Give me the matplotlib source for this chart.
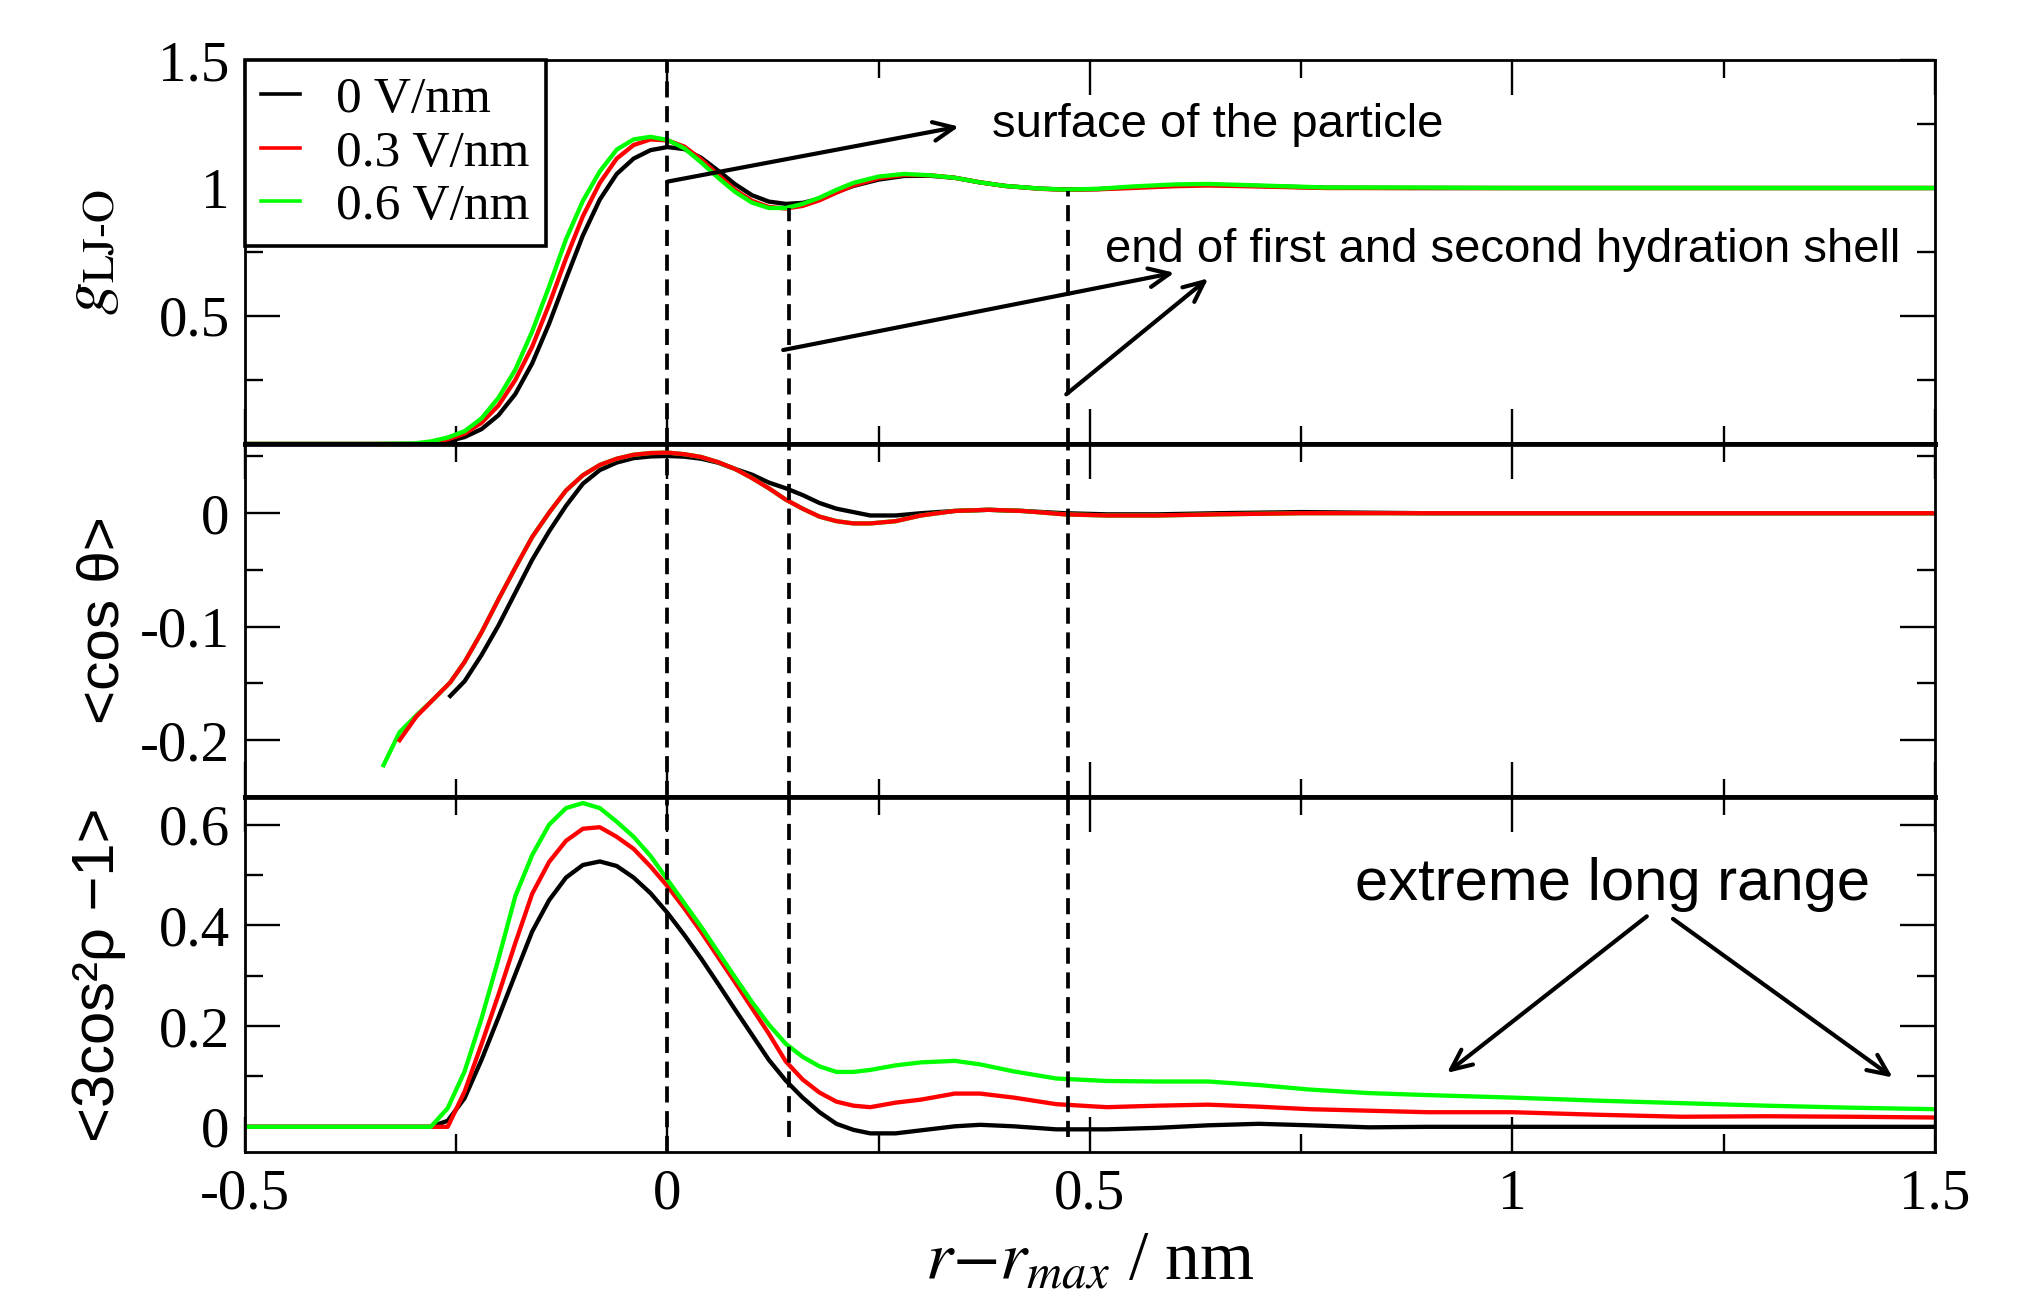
import matplotlib
matplotlib.use('Agg')
import matplotlib.pyplot as plt
import numpy as np

plt.rcParams['mathtext.fontset'] = 'stix'
plt.rcParams['axes.unicode_minus'] = False

SERIF = 'Liberation Serif'
SANS = 'Liberation Sans'

labels = ['0 V/nm', '0.3 V/nm', '0.6 V/nm']
colors = ['#000000', '#ff0000', '#00ff00']

# g_LJ-O (top panel)
x_g = [-0.50, -0.35, -0.30, -0.28, -0.26, -0.24, -0.22, -0.20, -0.18, -0.16,
       -0.14, -0.12, -0.10, -0.08, -0.06, -0.04, -0.02, 0.00, 0.02, 0.04,
       0.06, 0.08, 0.10, 0.12, 0.14, 0.16, 0.18, 0.20, 0.22, 0.25,
       0.28, 0.31, 0.34, 0.37, 0.40, 0.44, 0.47, 0.51, 0.55, 0.60,
       0.64, 0.70, 0.78, 0.88, 1.00, 1.10, 1.20, 1.30, 1.40, 1.50]
g_0 = [0, 0, 0, 0.002, 0.01, 0.027, 0.058, 0.112, 0.195, 0.315,
       0.47, 0.645, 0.815, 0.955, 1.055, 1.115, 1.148, 1.16, 1.152, 1.118,
       1.068, 1.015, 0.972, 0.947, 0.938, 0.942, 0.958, 0.984, 1.008, 1.033,
       1.047, 1.048, 1.04, 1.022, 1.008, 0.998, 0.994, 0.996, 1.003, 1.01,
       1.012, 1.008, 1.001, 1.0, 1.0, 1.0, 1.0, 1.0, 1.0, 1.0]
g_03 = [0, 0, 0, 0.006, 0.018, 0.04, 0.083, 0.15, 0.25, 0.38,
        0.545, 0.725, 0.89, 1.02, 1.115, 1.168, 1.19, 1.186, 1.162, 1.112,
        1.052, 0.993, 0.95, 0.926, 0.92, 0.93, 0.952, 0.982, 1.01, 1.038,
        1.051, 1.05, 1.04, 1.022, 1.008, 0.997, 0.993, 0.995, 1.0, 1.007,
        1.01, 1.006, 1.0, 1.0, 1.0, 1.0, 1.0, 1.0, 1.0, 1.0]
g_06 = [0, 0, 0.002, 0.01, 0.025, 0.05, 0.10, 0.18, 0.29, 0.44,
        0.615, 0.80, 0.95, 1.065, 1.15, 1.19, 1.20, 1.188, 1.155, 1.10,
        1.04, 0.985, 0.943, 0.922, 0.922, 0.938, 0.962, 0.993, 1.02, 1.045,
        1.055, 1.05, 1.04, 1.022, 1.008, 0.998, 0.994, 0.997, 1.006, 1.014,
        1.016, 1.01, 1.002, 1.002, 1.0, 1.0, 1.0, 1.0, 1.0, 1.0]

# <cos theta> (middle panel)
nan = np.nan
x_cos = [-0.336, -0.317, -0.297, -0.277, -0.257, -0.24, -0.22, -0.20, -0.18, -0.16,
         -0.14, -0.12, -0.10, -0.08, -0.06, -0.04, -0.02, 0.00, 0.02, 0.04,
         0.06, 0.08, 0.10, 0.12, 0.14, 0.16, 0.18, 0.20, 0.22, 0.24,
         0.27, 0.30, 0.34, 0.38, 0.42, 0.47, 0.52, 0.58, 0.65, 0.75,
         0.90, 1.10, 1.30, 1.50]
cos_0 = [nan, nan, nan, nan, -0.161, -0.148, -0.125, -0.099, -0.070, -0.041,
         -0.016, 0.0065, 0.026, 0.038, 0.0446, 0.0485, 0.050, 0.0504, 0.0498, 0.048,
         0.0445, 0.039, 0.034, 0.027, 0.022, 0.016, 0.009, 0.004, 0.001, -0.002,
         -0.002, 0.0, 0.002, 0.003, 0.002, 0.0, -0.001, -0.001, 0.0, 0.001,
         0.0, 0.0, 0.0, 0.0]
cos_03 = [nan, -0.200, -0.179, -0.164, -0.149, -0.131, -0.105, -0.076, -0.048, -0.021,
          0.0005, 0.020, 0.0335, 0.0425, 0.048, 0.0515, 0.053, 0.0534, 0.052, 0.0495,
          0.045, 0.039, 0.031, 0.022, 0.012, 0.004, -0.003, -0.007, -0.009, -0.009,
          -0.007, -0.002, 0.002, 0.003, 0.002, -0.001, -0.002, -0.002, -0.001, 0.0,
          0.0, 0.0, 0.0, 0.0]
cos_06 = [-0.222, -0.193, -0.178, -0.164, -0.149, -0.131, -0.105, -0.076, -0.048, -0.021,
          0.0005, 0.020, 0.0335, 0.0425, 0.048, 0.0515, 0.053, 0.0534, 0.052, 0.0495,
          0.045, 0.039, 0.031, 0.022, 0.012, 0.004, -0.003, -0.007, -0.009, -0.009,
          -0.007, -0.002, 0.002, 0.003, 0.002, -0.001, -0.002, -0.002, -0.001, 0.0,
          0.0, 0.0, 0.0, 0.0]

# <3cos^2 rho - 1> (bottom panel)
x_p2 = [-0.50, -0.28, -0.26, -0.24, -0.22, -0.20, -0.18, -0.16, -0.14, -0.12,
        -0.10, -0.08, -0.06, -0.04, -0.02, 0.00, 0.02, 0.04, 0.06, 0.08,
        0.10, 0.12, 0.14, 0.16, 0.18, 0.20, 0.22, 0.24, 0.27, 0.30,
        0.34, 0.37, 0.41, 0.46, 0.52, 0.58, 0.64, 0.70, 0.76, 0.83,
        0.90, 1.00, 1.10, 1.20, 1.30, 1.40, 1.50]
p2_0 = [0, 0, 0.012, 0.057, 0.133, 0.217, 0.303, 0.388, 0.45, 0.495,
        0.52, 0.527, 0.518, 0.495, 0.464, 0.425, 0.381, 0.334, 0.284, 0.233,
        0.183, 0.133, 0.092, 0.058, 0.029, 0.006, -0.006, -0.013, -0.013, -0.007,
        0.001, 0.004, 0.001, -0.005, -0.005, -0.002, 0.003, 0.006, 0.003, -0.001,
        0.0, 0.0, 0.0, 0.0, 0.0, 0.0, 0.0]
p2_03 = [0, 0, 0.0, 0.07, 0.164, 0.262, 0.365, 0.463, 0.526, 0.568,
         0.592, 0.595, 0.576, 0.552, 0.517, 0.478, 0.434, 0.387, 0.337, 0.287,
         0.236, 0.185, 0.13, 0.094, 0.068, 0.05, 0.042, 0.039, 0.048, 0.054,
         0.066, 0.066, 0.058, 0.045, 0.039, 0.042, 0.044, 0.040, 0.035, 0.032,
         0.029, 0.029, 0.024, 0.02, 0.021, 0.02, 0.0185]
p2_06 = [0, 0, 0.037, 0.11, 0.215, 0.333, 0.458, 0.54, 0.60, 0.633,
         0.643, 0.633, 0.606, 0.576, 0.538, 0.491, 0.444, 0.397, 0.347, 0.297,
         0.248, 0.203, 0.165, 0.139, 0.12, 0.109, 0.109, 0.113, 0.122, 0.128,
         0.131, 0.124, 0.110, 0.096, 0.091, 0.090, 0.090, 0.083, 0.074, 0.067,
         0.063, 0.058, 0.052, 0.047, 0.042, 0.038, 0.035]

# shell boundaries (vertical dashed lines)
shell_x = [0.0, 0.144, 0.474]
shell_top_g = [1.5, 0.92, 0.99]
shell_bottom_p2 = [-0.05, -0.02, -0.02]

xticks = [-0.5, 0, 0.5, 1, 1.5]
xtick_labels = ['-0.5', '0', '0.5', '1', '1.5']
xminor = [-0.25, 0.25, 0.75, 1.25]

fig = plt.figure(figsize=(20.24, 12.97), dpi=100)
ax1 = fig.add_axes([0.121, 0.6577, 0.835, 0.2960])
ax2 = fig.add_axes([0.121, 0.3855, 0.835, 0.2722])
ax3 = fig.add_axes([0.121, 0.1118, 0.835, 0.2737])


def style(ax, ylim, yticks, ylabels, yminor):
    ax.set_xlim(-0.5, 1.5)
    ax.set_ylim(*ylim)
    ax.set_xticks(xticks)
    ax.set_xticks(xminor, minor=True)
    ax.set_yticks(yticks)
    ax.set_yticklabels(ylabels, fontfamily=SERIF, fontsize=41)
    ax.set_yticks(yminor, minor=True)
    ax.tick_params(which='both', direction='in', top=True, right=True, width=1.7)
    ax.tick_params(which='major', length=25, pad=11)
    ax.tick_params(which='minor', length=13)
    for s in ax.spines.values():
        s.set_linewidth(2.0)


style(ax1, (0, 1.5), [0.5, 1, 1.5], ['0.5', '1', '1.5'], [0.25, 0.75, 1.25])
style(ax2, (-0.25, 0.061), [-0.2, -0.1, 0], ['-0.2', '-0.1', '0'], [-0.25, -0.15, -0.05, 0.05])
style(ax3, (-0.05, 0.655), [0, 0.2, 0.4, 0.6], ['0', '0.2', '0.4', '0.6'], [0.1, 0.3, 0.5])

ax1.set_xticklabels([])
ax2.set_xticklabels([])
ax3.set_xticklabels(xtick_labels, fontfamily=SERIF, fontsize=41)
ax3.tick_params(axis='x', which='major', pad=12)

for sp in [ax1.spines['bottom'], ax2.spines['top'], ax2.spines['bottom'], ax3.spines['top']]:
    sp.set_linewidth(3.4)

LW = 3.1
for y, c, lab in zip([g_0, g_03, g_06], colors, labels):
    ax1.plot(x_g, y, color=c, lw=LW, label=lab)
for y, c, z in zip([cos_0, cos_06, cos_03], [colors[0], colors[2], colors[1]], [2, 2.1, 2.2]):
    ax2.plot(x_cos, y, color=c, lw=LW, zorder=z)
for y, c in zip([p2_0, p2_03, p2_06], colors):
    ax3.plot(x_p2, y, color=c, lw=LW)

dash = (0, (4.3, 2.3))
DLW = 2.7
ax1.vlines(shell_x, 0, shell_top_g, colors='k', linestyles=dash, lw=DLW, zorder=3)
ax2.vlines(shell_x, -0.25, 0.061, colors='k', linestyles=dash, lw=DLW, zorder=3)
ax3.vlines(shell_x, shell_bottom_p2, 0.655, colors='k', linestyles=dash, lw=DLW, zorder=3)

leg = ax1.legend(loc='upper left', bbox_to_anchor=(0, 1), borderaxespad=0,
                 prop={'family': SERIF, 'size': 37}, frameon=True, fancybox=False,
                 edgecolor='k', framealpha=1, handlelength=0.75, handletextpad=0.7,
                 borderpad=0.32, labelspacing=0.12)
leg.get_frame().set_linewidth(2.6)
for h in leg.get_lines():
    h.set_linewidth(2.6)

arrow = dict(arrowstyle='->,head_length=0.55,head_width=0.25', lw=3.0, color='k',
             shrinkA=0, shrinkB=0, mutation_scale=27)
ax1.annotate('', xy=(0.345, 1.24), xytext=(0.0, 1.025), arrowprops=arrow)
ax1.annotate('', xy=(0.60, 0.669), xytext=(0.137, 0.367), arrowprops=arrow)
ax1.annotate('', xy=(0.64, 0.647), xytext=(0.472, 0.194), arrowprops=arrow)
ax1.text(0.384, 1.20, 'surface of the particle', family=SANS, fontsize=34, va='baseline')
ax1.text(0.518, 0.712, 'end of first and second hydration shell', family=SANS,
         fontsize=34, va='baseline')

ax3.annotate('', xy=(0.9225, 0.107), xytext=(1.159, 0.418), arrowprops=arrow)
ax3.annotate('', xy=(1.45, 0.098), xytext=(1.19, 0.413), arrowprops=arrow)
ax3.text(0.8136, 0.451, 'extreme long range', family=SANS, fontsize=43, va='baseline')

fig.text(0.044, 0.806, r'$g_{\mathrm{LJ‐O}}$', rotation=90, ha='center', va='center',
         fontsize=47)
fig.text(0.0509, 0.5216, '<cos θ>', rotation=90, ha='center', va='center',
         family=SANS, fontsize=42)
fig.text(0.0487, 0.2486, '<3cos²ρ −1>', rotation=90, ha='center', va='center',
         family=SANS, fontsize=43)
fig.text(0.5385, 0.0135, r'$r{-}r_{max}$ / nm', ha='center', va='baseline',
         family=SERIF, fontsize=50)

fig.savefig('out.png', dpi=100)
